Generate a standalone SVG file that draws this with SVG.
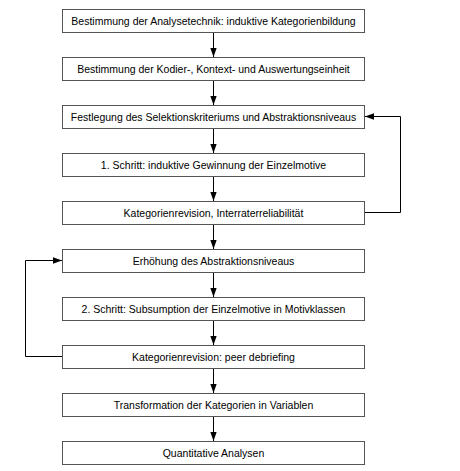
<svg xmlns="http://www.w3.org/2000/svg" width="460" height="471" viewBox="0 0 460 471">
<style>
.box{fill:#fff;stroke:#555;stroke-width:1}
.lbl{font-family:"Liberation Sans",Arial,sans-serif;font-size:10.5px;fill:#000;text-anchor:middle}
.con{fill:none;stroke:#000;stroke-width:1}
</style>
<defs>
<marker id="ah" viewBox="0 0 10 7" refX="10" refY="3.5" markerWidth="9" markerHeight="6.5" markerUnits="userSpaceOnUse" orient="auto">
<path d="M0,0 L10,3.5 L0,7 Z" fill="#000"/>
</marker>
</defs>
<rect width="460" height="471" fill="#fff"/>
<g id="connectors">
<line class="con" x1="213.5" y1="32.5" x2="213.5" y2="57" marker-end="url(#ah)"/>
<line class="con" x1="213.5" y1="80.5" x2="213.5" y2="105" marker-end="url(#ah)"/>
<line class="con" x1="213.5" y1="128.5" x2="213.5" y2="153" marker-end="url(#ah)"/>
<line class="con" x1="213.5" y1="176.5" x2="213.5" y2="201" marker-end="url(#ah)"/>
<line class="con" x1="213.5" y1="224.5" x2="213.5" y2="249" marker-end="url(#ah)"/>
<line class="con" x1="213.5" y1="272.5" x2="213.5" y2="297" marker-end="url(#ah)"/>
<line class="con" x1="213.5" y1="320.5" x2="213.5" y2="345" marker-end="url(#ah)"/>
<line class="con" x1="213.5" y1="368.5" x2="213.5" y2="393" marker-end="url(#ah)"/>
<line class="con" x1="213.5" y1="416.5" x2="213.5" y2="441" marker-end="url(#ah)"/>
<path class="con" d="M364.5,212.5 H400.5 V116.5 H365" marker-end="url(#ah)"/>
<path class="con" d="M62.5,356.5 H25.5 V260.5 H62" marker-end="url(#ah)"/>
</g>
<g id="n1"><rect class="box" x="62.5" y="9.5" width="302" height="23"/><text class="lbl" x="213.5" y="24.5">Bestimmung der Analysetechnik: induktive Kategorienbildung</text></g>
<g id="n2"><rect class="box" x="62.5" y="57.5" width="302" height="23"/><text class="lbl" x="213.5" y="72.5">Bestimmung der Kodier-, Kontext- und Auswertungseinheit</text></g>
<g id="n3"><rect class="box" x="62.5" y="105.5" width="302" height="23"/><text class="lbl" x="213.5" y="120.5">Festlegung des Selektionskriteriums und Abstraktionsniveaus</text></g>
<g id="n4"><rect class="box" x="62.5" y="153.5" width="302" height="23"/><text class="lbl" x="213.5" y="168.5">1. Schritt: induktive Gewinnung der Einzelmotive</text></g>
<g id="n5"><rect class="box" x="62.5" y="201.5" width="302" height="23"/><text class="lbl" x="213.5" y="216.5">Kategorienrevision, Interraterreliabilität</text></g>
<g id="n6"><rect class="box" x="62.5" y="249.5" width="302" height="23"/><text class="lbl" x="213.5" y="264.5">Erhöhung des Abstraktionsniveaus</text></g>
<g id="n7"><rect class="box" x="62.5" y="297.5" width="302" height="23"/><text class="lbl" x="213.5" y="312.5">2. Schritt: Subsumption der Einzelmotive in Motivklassen</text></g>
<g id="n8"><rect class="box" x="62.5" y="345.5" width="302" height="23"/><text class="lbl" x="213.5" y="360.5">Kategorienrevision: peer debriefing</text></g>
<g id="n9"><rect class="box" x="62.5" y="393.5" width="302" height="23"/><text class="lbl" x="213.5" y="408.5">Transformation der Kategorien in Variablen</text></g>
<g id="n10"><rect class="box" x="62.5" y="441.5" width="302" height="23"/><text class="lbl" x="213.5" y="456.5">Quantitative Analysen</text></g>
</svg>
